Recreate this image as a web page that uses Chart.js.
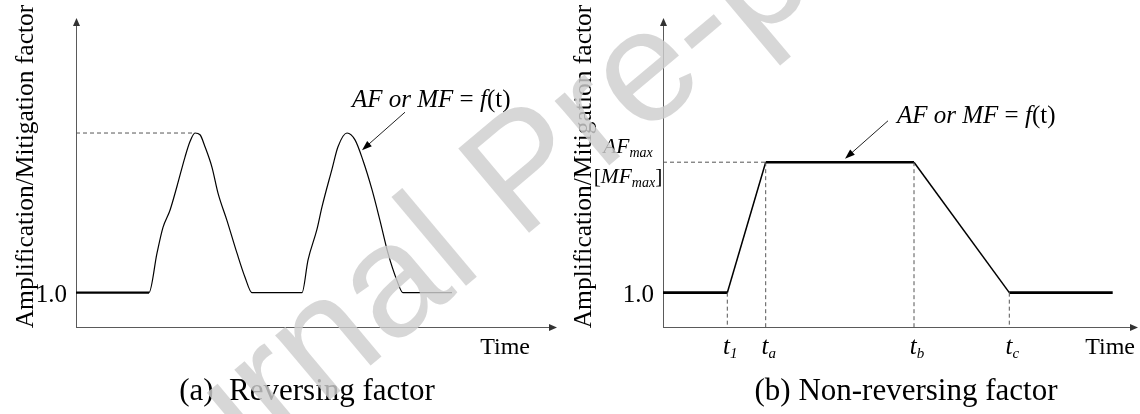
<!DOCTYPE html>
<html>
<head>
<meta charset="utf-8">
<title>Amplification / mitigation factor vs time</title>
<script src="https://cdn.jsdelivr.net/npm/chart.js@4"></script>
<style>
  html, body { margin: 0; padding: 0; background: #fff; }
  #wrap { position: relative; width: 1140px; height: 414px; overflow: hidden; }
  canvas { position: absolute; top: 0; }
  #chartA { left: 0; }
  #chartB { left: 570px; }
</style>
</head>
<body>
<div id="wrap">
  <canvas id="chartA" width="570" height="414"></canvas>
  <canvas id="chartB" width="570" height="414"></canvas>
</div>
<script>
// (a) reversing factor: two pulses above the 1.0 level
const timeA = [0, 7.3, 8.1, 8.7, 9.4, 10.1, 10.9, 11.4, 11.9, 12.4, 12.9, 13.6, 14.2, 15.1, 16.1, 16.9, 17.6,
               22.6, 23.2, 24.1, 24.6, 25.6, 26.2, 27.1, 27.9, 28.7, 29.6, 30.4, 31.2, 32.1, 32.7, 37.6];
const factorA = [1.0, 1.0, 1.23, 1.38, 1.48, 1.62, 1.79, 1.88, 1.93, 1.92, 1.85, 1.73, 1.58, 1.42, 1.23, 1.09, 1.0,
                 1.0, 1.19, 1.37, 1.50, 1.72, 1.85, 1.93, 1.89, 1.77, 1.60, 1.42, 1.23, 1.07, 1.0, 1.0];

// (b) non-reversing factor: ramp up at t1..ta, hold, ramp down at tb..tc
const timeB = [0, 6.43, 10.27, 25.1, 34.63, 44.97];
const factorB = [1.0, 1.0, 1.76, 1.76, 1.0, 1.0];
const tickSubsB = ['1', 'a', 'b', 'c'];   // subscripts for timeB[1..4]

const yTickValue = 1.0;
const yTickLabel = '1.0';
const yTitle = 'Amplification/Mitigation factor';
const xTitle = 'Time';

const SERIF = '"Liberation Serif", "Times New Roman", serif';
const font = (size, italic) => (italic ? 'italic ' : '') + size + 'px ' + SERIF;

// draw a row of mixed-style text pieces, returns width
function runsWidth(ctx, runs) {
  let w = 0;
  runs.forEach(r => { ctx.font = font(r.size, r.italic); w += ctx.measureText(r.text).width; });
  return w;
}
function drawRuns(ctx, runs, x, y, align) {
  const w = runsWidth(ctx, runs);
  let cx = align === 'center' ? x - w / 2 : align === 'right' ? x - w : x;
  ctx.textAlign = 'left';
  ctx.textBaseline = 'alphabetic';
  runs.forEach(r => {
    ctx.font = font(r.size, r.italic);
    ctx.fillText(r.text, cx, y + (r.dy || 0));
    cx += ctx.measureText(r.text).width;
  });
}

function drawAxes(ctx, a) {
  ctx.save();
  ctx.strokeStyle = '#5a5a5a';
  ctx.fillStyle = '#333';
  ctx.lineWidth = 1;
  ctx.beginPath();
  ctx.moveTo(a.left + 0.5, a.bottom + 0.5);
  ctx.lineTo(a.left + 0.5, a.top + 6);
  ctx.moveTo(a.left, a.bottom + 0.5);
  ctx.lineTo(a.right - 6, a.bottom + 0.5);
  ctx.stroke();
  ctx.beginPath();
  ctx.moveTo(a.left + 0.5, a.top);
  ctx.lineTo(a.left - 3, a.top + 8);
  ctx.lineTo(a.left + 4, a.top + 8);
  ctx.closePath();
  ctx.moveTo(a.right, a.bottom + 0.5);
  ctx.lineTo(a.right - 8, a.bottom - 3);
  ctx.lineTo(a.right - 8, a.bottom + 4);
  ctx.closePath();
  ctx.fill();
  ctx.restore();
}

function drawPointer(ctx, tx, ty, fx, fy) {
  const ang = Math.atan2(ty - fy, tx - fx);
  const len = 10, half = 3.5;
  ctx.save();
  ctx.strokeStyle = '#222';
  ctx.fillStyle = '#000';
  ctx.lineWidth = 1;
  ctx.beginPath();
  ctx.moveTo(fx, fy);
  ctx.lineTo(tx - Math.cos(ang) * len * 0.8, ty - Math.sin(ang) * len * 0.8);
  ctx.stroke();
  ctx.beginPath();
  ctx.moveTo(tx, ty);
  ctx.lineTo(tx - Math.cos(ang) * len - Math.sin(ang) * half, ty - Math.sin(ang) * len + Math.cos(ang) * half);
  ctx.lineTo(tx - Math.cos(ang) * len + Math.sin(ang) * half, ty - Math.sin(ang) * len - Math.cos(ang) * half);
  ctx.closePath();
  ctx.fill();
  ctx.restore();
}

const fRuns = [
  { text: 'AF or MF', size: 25, italic: true },
  { text: ' = ', size: 25 },
  { text: 'f', size: 25, italic: true },
  { text: '(t)', size: 25 }
];

// labels, axes, pointer and caption around each panel
function decor(cfg) {
  return {
    id: 'decor',
    beforeDatasetsDraw(chart) {
      drawAxes(chart.ctx, chart.chartArea);
    },
    afterDatasetsDraw(chart) {
      const ctx = chart.ctx, a = chart.chartArea;
      const xs = chart.scales.x, ys = chart.scales.y;
      ctx.save();
      ctx.fillStyle = '#000';

      // y tick
      ctx.font = font(25);
      ctx.textAlign = 'right';
      ctx.textBaseline = 'alphabetic';
      ctx.fillText(yTickLabel, a.left - 9, ys.getPixelForValue(yTickValue) + 9);

      // y title
      ctx.save();
      ctx.translate(cfg.yTitleX, (a.top + a.bottom) / 2 - 6);
      ctx.rotate(-Math.PI / 2);
      ctx.textAlign = 'center';
      ctx.font = font(25.5);
      ctx.fillText(yTitle, 0, 0);
      ctx.restore();

      // x title
      ctx.font = font(24);
      ctx.textAlign = 'right';
      ctx.fillText(xTitle, cfg.xTitleRight, 354);

      // f(t) pointer
      const tx = xs.getPixelForValue(cfg.pointer.t), ty = ys.getPixelForValue(cfg.pointer.v);
      drawPointer(ctx, tx, ty, tx + 43, ty - 38);
      drawRuns(ctx, fRuns, tx + cfg.pointer.textDx, ty + cfg.pointer.textDy, 'left');

      if (cfg.extra) cfg.extra(chart, ctx, a, xs, ys);

      // caption
      ctx.font = font(31);
      ctx.textAlign = 'center';
      ctx.fillText(cfg.caption, cfg.captionX, 400);
      ctx.restore();
    },
    afterDraw(chart) {
      // "Journal Pre-proof" stamp across both panels
      const ctx = chart.ctx;
      ctx.save();
      ctx.translate(528 - cfg.offsetX, 176);
      ctx.rotate(-40 * Math.PI / 180);
      ctx.font = '160px "Liberation Sans", Arial, sans-serif';
      ctx.fillStyle = 'rgba(206,206,206,0.82)';
      ctx.textAlign = 'center';
      ctx.textBaseline = 'middle';
      ctx.fillText('Journal Pre-proof', 0, 0);
      ctx.restore();
    }
  };
}

const baseOptions = (padLeft, padRight, xMax) => ({
  responsive: false,
  animation: false,
  devicePixelRatio: 1,
  events: [],
  layout: { padding: { left: padLeft, right: padRight, top: 18, bottom: 87 } },
  plugins: { legend: { display: false }, tooltip: { enabled: false } },
  scales: {
    x: { type: 'linear', min: 0, max: xMax, display: false },
    y: { type: 'linear', min: 0.8, max: 2.6, display: false }
  }
});

const dashStyle = { borderColor: '#555', borderWidth: 1, borderDash: [4, 3], pointRadius: 0 };

// (a)
const peakA = Math.max(...factorA);
const peakTimeA = timeA[factorA.indexOf(peakA)];
new Chart(document.getElementById('chartA'), {
  type: 'line',
  data: {
    datasets: [
      Object.assign({ data: [{ x: 0, y: peakA }, { x: peakTimeA, y: peakA }] }, dashStyle),
      {
        data: timeA.map((t, i) => ({ x: t, y: factorA[i] })),
        borderColor: '#000',
        borderWidth: 1.2,
        pointRadius: 0,
        cubicInterpolationMode: 'monotone',
        segment: { borderWidth: c => (c.p0DataIndex === 0 ? 2.2 : 1.2) }
      }
    ]
  },
  options: baseOptions(76, 13, 48.1),
  plugins: [decor({
    offsetX: 0,
    yTitleX: 33,
    xTitleRight: 530,
    caption: '(a)  Reversing factor',
    captionX: 307,
    pointer: { t: 28.6, v: 1.83, textDx: -10, textDy: -43 }
  })]
});

// (b)
const dashB = [Object.assign({ data: [{ x: 0, y: factorB[2] }, { x: timeB[2], y: factorB[2] }] }, dashStyle)];
for (let i = 1; i <= 4; i++) {
  dashB.push(Object.assign({ data: [{ x: timeB[i], y: factorB[i] }, { x: timeB[i], y: 0.8 }] }, dashStyle));
}
new Chart(document.getElementById('chartB'), {
  type: 'line',
  data: {
    datasets: dashB.concat([{
      data: timeB.map((t, i) => ({ x: t, y: factorB[i] })),
      borderColor: '#000',
      borderWidth: 1.5,
      pointRadius: 0,
      segment: { borderWidth: c => (c.p0.parsed.y === c.p1.parsed.y ? 2.6 : 1.5) }
    }])
  },
  options: baseOptions(93, 2, 47.5),
  plugins: [decor({
    offsetX: 570,
    yTitleX: 21,
    xTitleRight: 565,
    caption: '(b) Non-reversing factor',
    captionX: 336,
    pointer: { t: 18.2, v: 1.78, textDx: 52, textDy: -36 },
    extra(chart, ctx, a, xs, ys) {
      // t1, ta, tb, tc under the dashed drops
      for (let i = 1; i <= 4; i++) {
        drawRuns(ctx, [
          { text: 't', size: 25, italic: true },
          { text: tickSubsB[i - 1], size: 15, italic: true, dy: 4 }
        ], xs.getPixelForValue(timeB[i]) + 3, 354, 'center');
      }
      // AFmax / [MFmax]
      const ym = ys.getPixelForValue(factorB[2]);
      const cx = a.left - 35;
      drawRuns(ctx, [
        { text: 'AF', size: 21.5, italic: true },
        { text: 'max', size: 14, italic: true, dy: 4 }
      ], cx, ym - 9, 'center');
      drawRuns(ctx, [
        { text: '[', size: 21.5 },
        { text: 'MF', size: 21.5, italic: true },
        { text: 'max', size: 14, italic: true, dy: 4 },
        { text: ']', size: 21.5 }
      ], cx, ym + 21, 'center');
    }
  })]
});
</script>
</body>
</html>
